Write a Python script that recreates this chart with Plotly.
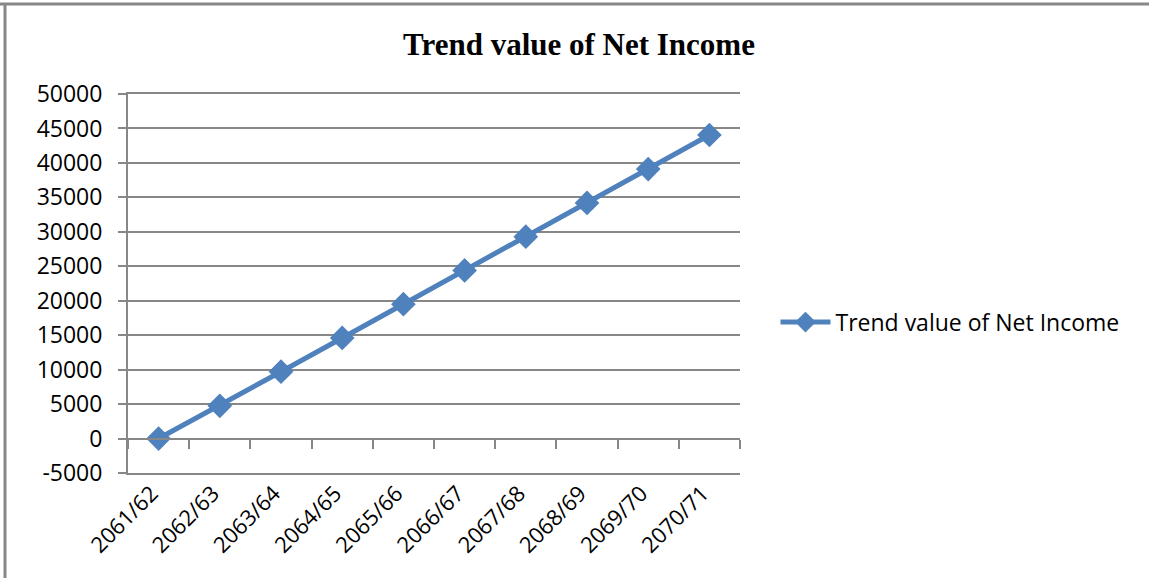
import plotly.graph_objects as go

# Fiscal years and the fitted trend of net income
years = ["2061/62", "2062/63", "2063/64", "2064/65", "2065/66",
         "2066/67", "2067/68", "2068/69", "2069/70", "2070/71"]
trend_values = [0, 4750, 9700, 14600, 19500, 24400, 29300, 34200, 39100, 44050]

# Value-axis ticks and their labels
y_ticks = [-5000, 0, 5000, 10000, 15000, 20000, 25000, 30000, 35000, 40000, 45000, 50000]
y_tick_labels = [str(v) for v in y_ticks]
y_min, y_max = y_ticks[0], y_ticks[-1]

series_color = "#4F81BD"
grid_color = "#878787"
y_tick_font = dict(family="Open Sans", size=23, color="#000000")
x_tick_font = dict(family="Open Sans", size=22, color="#000000")

fig = go.Figure()
fig.add_trace(go.Scatter(
    x=years,
    y=trend_values,
    mode="lines+markers",
    name="Trend value of Net Income",
    line=dict(color=series_color, width=5),
    marker=dict(symbol="diamond", size=19, color=series_color),
))

# Secondary category axis drawn at y = 0 to carry the tick marks
fig.add_trace(go.Scatter(x=years, y=[None] * len(years), xaxis="x2",
                         showlegend=False, hoverinfo="skip"))

zero_pos = (0 - y_min) / (y_max - y_min)

fig.update_layout(
    width=1149,
    height=578,
    margin=dict(l=128, r=409, t=94, b=105),
    paper_bgcolor="white",
    plot_bgcolor="white",
    title=dict(
        text="<b>Trend value of Net Income</b>",
        font=dict(family="Liberation Serif", size=31, color="#000000"),
        x=579 / 1149, xanchor="center",
        y=1 - 44 / 578, yanchor="middle",
    ),
    xaxis=dict(
        type="category",
        showgrid=False,
        showline=True,
        mirror=True,
        linecolor=grid_color,
        linewidth=2,
        ticks="",
        tickangle=-45,
        tickfont=x_tick_font,
        ticklabelshift=-7,
        ticklabelstandoff=-3,
        range=[-0.5, len(years) - 0.5],
    ),
    xaxis2=dict(
        type="category",
        overlaying="x",
        anchor="free",
        position=zero_pos,
        side="bottom",
        showgrid=False,
        showline=True,
        linecolor=grid_color,
        linewidth=2,
        ticks="outside",
        tickson="boundaries",
        ticklen=9,
        tickwidth=2,
        tickcolor=grid_color,
        showticklabels=False,
        range=[-0.5, len(years) - 0.5],
    ),
    yaxis=dict(
        range=[y_min, y_max],
        tickmode="array",
        tickvals=y_ticks,
        ticktext=y_tick_labels,
        showgrid=True,
        gridcolor=grid_color,
        gridwidth=2,
        showline=True,
        linecolor=grid_color,
        linewidth=2,
        ticks="outside",
        ticklen=8,
        tickwidth=2,
        tickcolor=grid_color,
        tickfont=y_tick_font,
        ticklabelstandoff=11,
        zeroline=False,
    ),
    legend=dict(
        x=1.058, y=0.398, xanchor="left", yanchor="middle",
        font=dict(family="Open Sans", size=23, color="#000000"),
        bgcolor="rgba(0,0,0,0)",
        itemwidth=50,
    ),
    showlegend=True,
    shapes=[
        # chart border (top and left edges)
        dict(type="line", xref="paper", yref="paper",
             x0=-128 / 612, x1=1.0 + 409 / 612, y0=1 + 90 / 379, y1=1 + 90 / 379,
             line=dict(color="#888888", width=3)),
        dict(type="line", xref="paper", yref="paper",
             x0=-123 / 612, x1=-123 / 612, y0=1 + 90 / 379, y1=-105 / 379,
             line=dict(color="#888888", width=3)),
    ],
)

fig.write_html("out.html")
